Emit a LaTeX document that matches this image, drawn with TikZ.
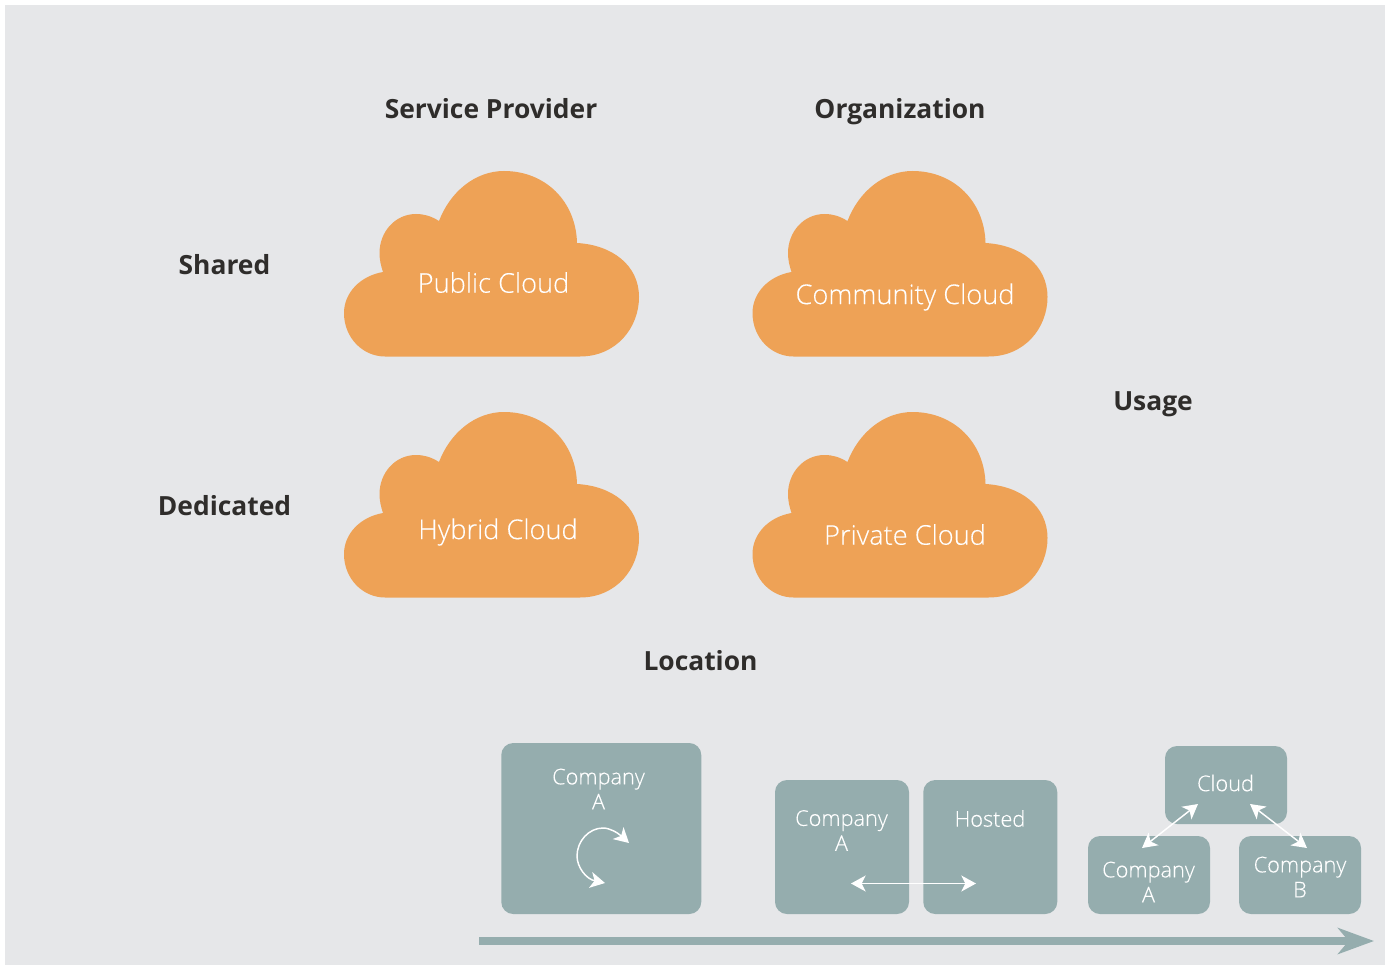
\documentclass[tikz,border=0pt]{standalone}
\usepackage{fontspec}
\setmainfont{Open Sans}
\newfontfamily\thinface[FakeBold=0.2]{Open Sans Light}
\usetikzlibrary{arrows.meta}
\definecolor{panelgrey}{HTML}{E6E7E9}
\definecolor{cloudorange}{HTML}{EEA256}
\definecolor{boxteal}{HTML}{95ADAE}
\definecolor{headink}{HTML}{2F2D2B}
\tikzset{
  heading/.style={font=\fontsize{19.8}{24}\selectfont\bfseries, text=headink},
  cloudtext/.style={font=\thinface\fontsize{20.4}{24}\selectfont, text=white},
  boxtext/.style={font=\thinface\fontsize{16.3}{18.75}\selectfont, text=white, align=center},
  tealbox/.style={fill=boxteal, rounded corners=9pt, minimum width=#1*0.75pt, inner sep=0pt},
  whitearrow/.style={white, line width=1.1pt, {Stealth[length=11pt,width=12pt,inset=3pt]}-{Stealth[length=11pt,width=12pt,inset=3pt]}},
  pics/cloudblob/.style={code={
    \fill [cloudorange] (385,356.5) -- (580,356.5)
      .. controls (616,356.5) and (639,328) .. (639,297)
      .. controls (639,265) and (612,245) .. (577,243)
      .. controls (576,201) and (545,171) .. (504,171)
      .. controls (475,171) and (450,192) .. (439,221)
      .. controls (431,216) and (424,214) .. (416,214)
      .. controls (395,214) and (379.5,232) .. (379.5,253)
      .. controls (379.5,260) and (381,266) .. (383,272)
      .. controls (360,276) and (344,293) .. (344,313)
      .. controls (344,338) and (363,356.5) .. (385,356.5) -- cycle;
  }}
}
\begin{document}
\begin{tikzpicture}[x=0.75pt, y=-0.75pt]
\useasboundingbox (0,0) rectangle (1387,966);
\fill [panelgrey] (5,5) rectangle (1385,965);

\pic at (0,0) {cloudblob};
\pic at (408.5,0) {cloudblob};
\pic at (0,241) {cloudblob};
\pic at (408.5,241) {cloudblob};

\node (provider) [heading] at (491,109) {Service Provider};
\node (organization) [heading] at (900,112) {Organization};
\node (shared) [heading] at (224.5,265) {Shared};
\node (dedicated) [heading] at (224.5,506) {Dedicated};
\node (usage) [heading] at (1153,404) {Usage};
\node (location) [heading] at (700.5,661) {Location};

\node (public) [cloudtext] at (493.5,282.5) {Public Cloud};
\node (community) [cloudtext] at (905,297) {Community Cloud};
\node (hybrid) [cloudtext] at (498,532) {Hybrid Cloud};
\node (private) [cloudtext] at (905,534.5) {Private Cloud};

\node (onsite) [tealbox=200, minimum height=128.25pt] at (601.25,828.5) {};
\node (colo) [tealbox=134, minimum height=100.5pt] at (842,847) {};
\node (hosted) [tealbox=134, minimum height=100.5pt] at (990.25,847) {};
\node (cloud) [tealbox=122, minimum height=58.5pt] at (1226,785) {};
\node (firma) [tealbox=122, minimum height=58.5pt] at (1149,875) {};
\node (firmb) [tealbox=122, minimum height=58.5pt] at (1300,875) {};

\node (onsitetext) [boxtext] at (598.5,789) {Company\\A};
\node (colotext) [boxtext] at (841.5,830.5) {Company\\A};
\node (hostedtext) [boxtext] at (990,818.5) {Hosted};
\node (cloudtext) [boxtext] at (1225.5,783) {Cloud};
\node (firmatext) [boxtext] at (1148.5,882) {Company\\A};
\node (firmbtext) [boxtext] at (1300,877) {Company\\B};

\coordinate (loopa) at (629,843);
\coordinate (loopb) at (605,883);
\coordinate (swapa) at (851,883.5);
\coordinate (swapb) at (976,883.5);
\coordinate (linka) at (1142,848);
\coordinate (linkb) at (1198,804);
\coordinate (linkc) at (1250,804);
\coordinate (linkd) at (1307,848);
\coordinate (axisa) at (479,941);
\coordinate (axisb) at (1374,941);

\draw [whitearrow] (loopa) .. controls (618,833) and (610,828) .. (603,828)
  .. controls (589,828) and (577,841) .. (577,856)
  .. controls (577,867) and (586,879) .. (loopb);
\draw [whitearrow] (swapa) -- (swapb);
\draw [whitearrow] (linka) -- (linkb);
\draw [whitearrow] (linkc) -- (linkd);
\draw [boxteal, line width=6pt, -{Stealth[length=27pt,width=19.5pt,inset=8pt]}] (axisa) -- (axisb);
\end{tikzpicture}
\end{document}
